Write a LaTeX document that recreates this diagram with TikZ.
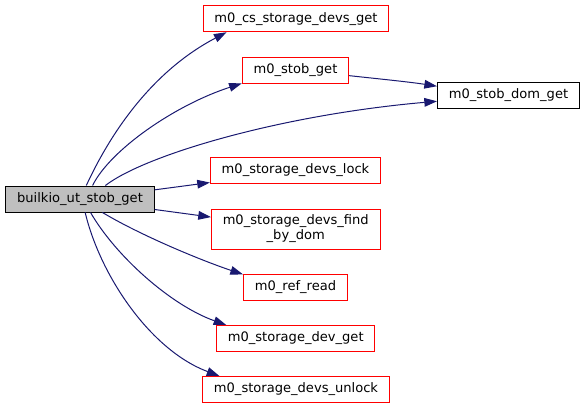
\documentclass[tikz,border=0pt]{standalone}
\usepackage{fontspec}
\setmainfont{DejaVu Sans}
\usepackage{tikz}
\usetikzlibrary{arrows.meta}
\definecolor{edgeblue}{HTML}{191970}
\definecolor{boxgray}{HTML}{BFBFBF}

\begin{document}
\begin{tikzpicture}[x=0.75pt, y=-0.75pt,
		fn/.style={draw=red, fill=white, line width=0.75pt, inner xsep=8.5pt, inner ysep=0pt,
			minimum height=19.5pt, font=\fontsize{9.8}{11.25}\selectfont, align=center},
		call/.style={draw=edgeblue, line width=0.75pt, -{Triangle[length=9.5pt,width=6.5pt]}}]
		\useasboundingbox (0,0) rectangle (585,408);
		% functions
		\node[fn, draw=black, fill=boxgray] (main) at (80,199) {builkio\_ut\_stob\_get};
		\node[fn] (csget) at (296,18.75) {m0\_cs\_storage\_devs\_get};
		\node[fn] (stobget) at (295.5,70) {m0\_stob\_get};
		\node[fn, draw=black] (domget) at (508.5,95) {m0\_stob\_dom\_get};
		\node[fn] (lock) at (295.5,170.5) {m0\_storage\_devs\_lock};
		\node[fn, minimum height=30pt] (findbydom) at (295.75,229) {m0\_storage\_devs\_find\\\_by\_dom};
		\node[fn] (refread) at (295.5,287.5) {m0\_ref\_read};
		\node[fn] (devget) at (295.75,338.5) {m0\_storage\_dev\_get};
		\node[fn] (unlock) at (296,389.5) {m0\_storage\_devs\_unlock};
		% calls
		\draw[call] (main.65) .. controls (105,145) and (145,75) .. (csget.191);
		\draw[call] (main.47) .. controls (110,150) and (175,105) .. (stobget.194);
		\draw[call] (main.28) .. controls (145,155) and (280,115) .. (domget.185);
		\draw[call] (stobget.354) .. controls (380,79) and (410,82) .. (domget.173);
		\draw[call] (main.7) -- (lock.188);
		\draw[call] (main.-8) -- (findbydom.172);
		\draw[call] (main.-31) .. controls (140,235) and (200,260) .. (refread.166);
		\draw[call] (main.-52) .. controls (115,255) and (170,305) .. (devget.169);
		\draw[call] (main.-69) .. controls (100,275) and (150,350) .. (unlock.170);
	\end{tikzpicture}
\end{document}
